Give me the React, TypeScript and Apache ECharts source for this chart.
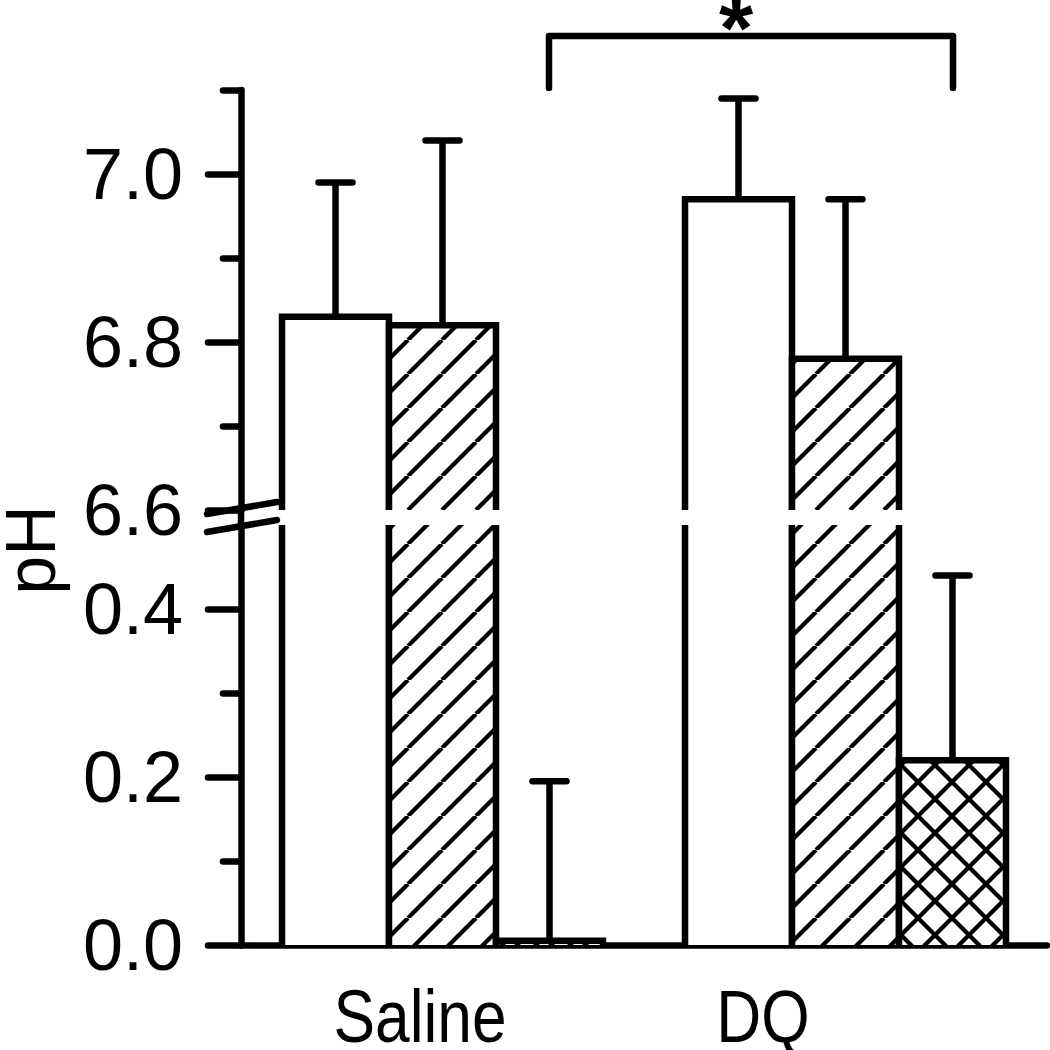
import React, { useEffect, useRef } from 'react';
import * as echarts from 'echarts';

const categories = ['Saline', 'DQ'];
// white bars
const openMean = [6.83, 6.97];
const openSD = [0.16, 0.12];
// single-hatched bars
const hatchMean = [6.82, 6.78];
const hatchSD = [0.22, 0.19];
// cross-hatched bars
const crossMean = [0.005, 0.22];
const crossSD = [0.19, 0.22];

const upperRange = [6.6, 7.1];
const lowerRange = [0, 0.5];
const upperMajor = [6.6, 6.8, 7.0];
const upperMinor = [6.7, 6.9, 7.1];
const lowerMajor = [0, 0.2, 0.4];
const lowerMinor = [0.1, 0.3];

const FONT = "'Liberation Sans', Arial, Helvetica, sans-serif";
const BAR_FRAC = 0.2655;
const LW = 6.5;

function makeTile(kind: string) {
  const s = 34;
  const c = document.createElement('canvas');
  c.width = s;
  c.height = s;
  const ctx = c.getContext('2d')!;
  ctx.fillStyle = '#fff';
  ctx.fillRect(0, 0, s, s);
  ctx.strokeStyle = '#000';
  ctx.lineWidth = 4.2;
  for (const x0 of [-s, 0, s]) {
    ctx.beginPath();
    ctx.moveTo(x0, s);
    ctx.lineTo(x0 + s, 0);
    ctx.stroke();
    if (kind === 'cross') {
      ctx.beginPath();
      ctx.moveTo(x0, 0);
      ctx.lineTo(x0 + s, s);
      ctx.stroke();
    }
  }
  return { image: c, repeat: 'repeat', imageWidth: s, imageHeight: s };
}

function makeRender(k: number, fill: any) {
  return (params: any, api: any) => {
    const cat = api.value(0);
    const v = api.value(1);
    const sd = api.value(2);
    const cs = params.coordSys;
    const bw = api.size([1, 0])[0] * BAR_FRAC;
    const p = api.coord([cat, v]);
    const cx = p[0] + (k - 1) * bw;
    const yBase = cs.y + cs.height;
    if (p[1] >= yBase) return null;
    const clipped = p[1] < cs.y;
    const yT = clipped ? cs.y : p[1];
    const x0 = cx - bw / 2;
    const x1 = cx + bw / 2;
    const ls = { stroke: '#000', lineWidth: LW, fill: null };
    const children: any[] = [
      { type: 'rect', shape: { x: x0, y: yT, width: bw, height: yBase - yT }, style: { fill } },
    ];
    if (clipped) {
      children.push({ type: 'line', shape: { x1: x0, y1: yT, x2: x0, y2: yBase }, style: ls });
      children.push({ type: 'line', shape: { x1: x1, y1: yT, x2: x1, y2: yBase }, style: ls });
    } else {
      children.push({
        type: 'polyline',
        shape: { points: [[x0, yBase], [x0, yT], [x1, yT], [x1, yBase]] },
        style: { ...ls, lineJoin: 'miter' },
      });
      const e = api.coord([cat, v + sd])[1];
      if (e >= cs.y - 6) {
        children.push({ type: 'line', shape: { x1: cx, y1: yT, x2: cx, y2: e }, style: ls });
        children.push({
          type: 'line',
          shape: { x1: cx - 17, y1: e, x2: cx + 17, y2: e },
          style: { ...ls, lineCap: 'round' },
        });
      }
    }
    return { type: 'group', children };
  };
}

export default function App() {
  const ref = useRef<HTMLDivElement>(null);
  useEffect(() => {
    const chart = echarts.init(ref.current!, null, { renderer: 'svg', width: 1050, height: 1050 });
    const hatch = makeTile('hatch');
    const cross = makeTile('cross');
    const groups = [
      { mean: openMean, sd: openSD, fill: '#fff' },
      { mean: hatchMean, sd: hatchSD, fill: hatch },
      { mean: crossMean, sd: crossSD, fill: cross },
    ];
    const series: any[] = [];
    [0, 1].forEach((gi) => {
      groups.forEach((g, k) => {
        series.push({
          type: 'custom',
          xAxisIndex: gi,
          yAxisIndex: gi * 2,
          silent: true,
          encode: { x: 0, y: 1 },
          renderItem: makeRender(k, g.fill),
          data: categories.map((_, i) => [i, g.mean[i], g.sd[i]]),
        });
      });
    });

    const lineStyle = { color: '#000', width: LW };
    const mainY = (gi: number, range: number[], major: number[]) => ({
      gridIndex: gi,
      type: 'value',
      min: range[0],
      max: range[1],
      position: 'left',
      axisLine: { show: true, onZero: false, lineStyle },
      axisTick: { show: true, customValues: major, length: 33, lineStyle: { ...lineStyle, cap: 'round' } },
      axisLabel: {
        show: true,
        customValues: major,
        formatter: (v: number) => v.toFixed(1),
        margin: 58,
        fontSize: 72,
        lineHeight: 62,
        fontFamily: FONT,
        color: '#000',
        padding: [0, 0, 4, 0],
      },
      splitLine: { show: false },
    });
    const minorY = (gi: number, range: number[], minor: number[]) => ({
      gridIndex: gi,
      type: 'value',
      min: range[0],
      max: range[1],
      position: 'left',
      axisLine: { show: false },
      axisTick: { show: true, customValues: minor, length: 18, lineStyle: { ...lineStyle, cap: 'round' } },
      axisLabel: { show: false },
      splitLine: { show: false },
    });

    const thick = { stroke: '#000', lineWidth: LW, lineCap: 'round' };

    chart.setOption({
      animation: false,
      backgroundColor: '#fff',
      grid: [
        { left: 241, top: 90, width: 806, height: 420, containLabel: false, outerBoundsMode: 'none' },
        { left: 241, top: 525, width: 806, height: 420, containLabel: false, outerBoundsMode: 'none' },
      ],
      xAxis: [
        { gridIndex: 0, type: 'category', data: categories, show: false },
        {
          gridIndex: 1,
          type: 'category',
          data: categories,
          axisLine: { show: true, onZero: false, lineStyle: { ...lineStyle, cap: 'round' } },
          axisTick: { show: false },
          axisLabel: { show: false },
          splitLine: { show: false },
        },
      ],
      yAxis: [
        mainY(0, upperRange, upperMajor),
        minorY(0, upperRange, upperMinor),
        mainY(1, lowerRange, lowerMajor),
        minorY(1, lowerRange, lowerMinor),
      ],
      series,
      graphic: [
        { type: 'line', shape: { x1: 241, y1: 508, x2: 241, y2: 527 }, style: { stroke: '#000', lineWidth: LW } },
        { type: 'line', shape: { x1: 207, y1: 514, x2: 277, y2: 502 }, style: thick },
        { type: 'line', shape: { x1: 207, y1: 532, x2: 277, y2: 520 }, style: thick },
        {
          type: 'polyline',
          shape: { points: [[549, 88], [549, 36], [953, 36], [953, 88]] },
          style: { ...thick, lineJoin: 'round', fill: null },
        },
        {
          type: 'text',
          x: 736,
          y: 27,
          style: {
            text: '*',
            fontSize: 88,
            fontWeight: 'bold',
            lineHeight: 40,
            fontFamily: FONT,
            fill: '#000',
            align: 'center',
            verticalAlign: 'middle',
          },
        },
        {
          type: 'text',
          x: 31,
          y: 550,
          rotation: Math.PI / 2,
          style: {
            text: 'pH',
            fontSize: 70,
            lineHeight: 56,
            fontFamily: FONT,
            fill: '#000',
            align: 'center',
            verticalAlign: 'middle',
          },
        },
        {
          type: 'text',
          x: 420,
          y: 1016,
          scaleX: 0.83,
          style: {
            text: categories[0],
            fontSize: 75,
            lineHeight: 58,
            fontFamily: FONT,
            fill: '#000',
            align: 'center',
            verticalAlign: 'middle',
          },
        },
        {
          type: 'text',
          x: 763,
          y: 1016,
          scaleX: 0.83,
          style: {
            text: categories[1],
            fontSize: 75,
            lineHeight: 58,
            fontFamily: FONT,
            fill: '#000',
            align: 'center',
            verticalAlign: 'middle',
          },
        },
      ],
    });
    return () => chart.dispose();
  }, []);
  return (
    <div
      ref={ref}
      style={{ position: 'fixed', left: 0, top: 0, width: 1050, height: 1050, background: '#fff' }}
    />
  );
}
